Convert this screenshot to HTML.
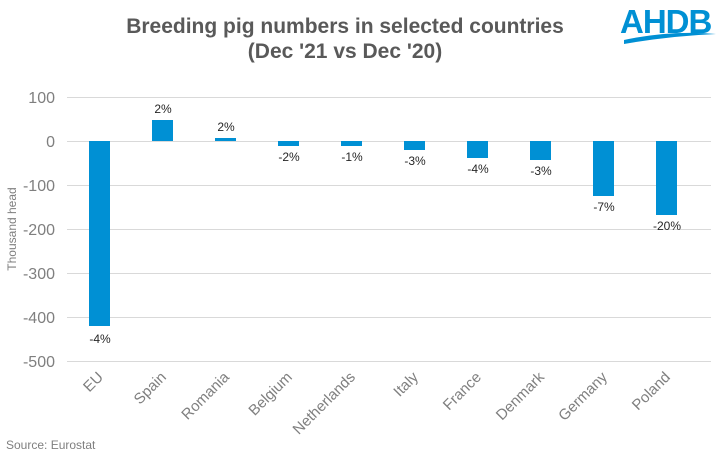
<!DOCTYPE html>
<html><head><meta charset="utf-8"><style>
body{margin:0;background:#fff}
svg{display:block;font-family:"Liberation Sans",Arial,sans-serif}
</style></head><body>
<svg width="721" height="454" viewBox="0 0 721 454">
<rect width="721" height="454" fill="#fff"/>
<text x="345" y="33" text-anchor="middle" font-size="21" font-weight="bold" fill="#595959">Breeding pig numbers in selected countries</text>
<text x="345" y="58" text-anchor="middle" font-size="21" font-weight="bold" fill="#595959">(Dec '21 vs Dec '20)</text>
<text x="620" y="33" font-size="33" font-weight="bold" fill="#0090d4" letter-spacing="-1">AHDB</text>
<path d="M624 40 Q670 30 716 34 Q670 36 624 44 Z" fill="#0090d4"/>
<g stroke="#d9d9d9" stroke-width="1">
<line x1="67" x2="711" y1="97.5" y2="97.5"/>
<line x1="67" x2="711" y1="141.5" y2="141.5"/>
<line x1="67" x2="711" y1="185.5" y2="185.5"/>
<line x1="67" x2="711" y1="229.5" y2="229.5"/>
<line x1="67" x2="711" y1="273.5" y2="273.5"/>
<line x1="67" x2="711" y1="317.5" y2="317.5"/>
<line x1="67" x2="711" y1="361.5" y2="361.5"/>
</g>
<g font-size="16" fill="#7f7f7f" text-anchor="end">
<text x="55" y="103">100</text><text x="55" y="147">0</text>
<text x="55" y="191">-100</text><text x="55" y="235">-200</text>
<text x="55" y="279">-300</text><text x="55" y="323">-400</text>
<text x="55" y="367">-500</text>
</g>
<text transform="translate(16,229) rotate(-90)" text-anchor="middle" font-size="12" fill="#7f7f7f">Thousand  head</text>
<g fill="#0090d4">
<rect x="89" y="141" width="21" height="185"/>
<rect x="152" y="120" width="21" height="21"/>
<rect x="215" y="138" width="21" height="3"/>
<rect x="278" y="141" width="21" height="5"/>
<rect x="341" y="141" width="21" height="5"/>
<rect x="404" y="141" width="21" height="9"/>
<rect x="467" y="141" width="21" height="17"/>
<rect x="530" y="141" width="21" height="19"/>
<rect x="593" y="141" width="21" height="55"/>
<rect x="656" y="141" width="21" height="74"/>
</g>
<g font-size="12" fill="#262626" text-anchor="middle">
<text x="100" y="343">-4%</text>
<text x="163" y="113">2%</text>
<text x="226" y="131">2%</text>
<text x="289" y="161">-2%</text>
<text x="352" y="161">-1%</text>
<text x="415" y="165">-3%</text>
<text x="478" y="173">-4%</text>
<text x="541" y="175">-3%</text>
<text x="604" y="211">-7%</text>
<text x="667" y="230">-20%</text>
</g>
<g font-size="15" fill="#7f7f7f" text-anchor="end">
<text transform="translate(104,378) rotate(-45)">EU</text>
<text transform="translate(167,378) rotate(-45)">Spain</text>
<text transform="translate(230,378) rotate(-45)">Romania</text>
<text transform="translate(293,378) rotate(-45)">Belgium</text>
<text transform="translate(356,378) rotate(-45)">Netherlands</text>
<text transform="translate(419,378) rotate(-45)">Italy</text>
<text transform="translate(482,378) rotate(-45)">France</text>
<text transform="translate(545,378) rotate(-45)">Denmark</text>
<text transform="translate(608,378) rotate(-45)">Germany</text>
<text transform="translate(671,378) rotate(-45)">Poland</text>
</g>
<text x="6" y="449" font-size="12" fill="#7f7f7f">Source: Eurostat</text>
</svg>
</body></html>
